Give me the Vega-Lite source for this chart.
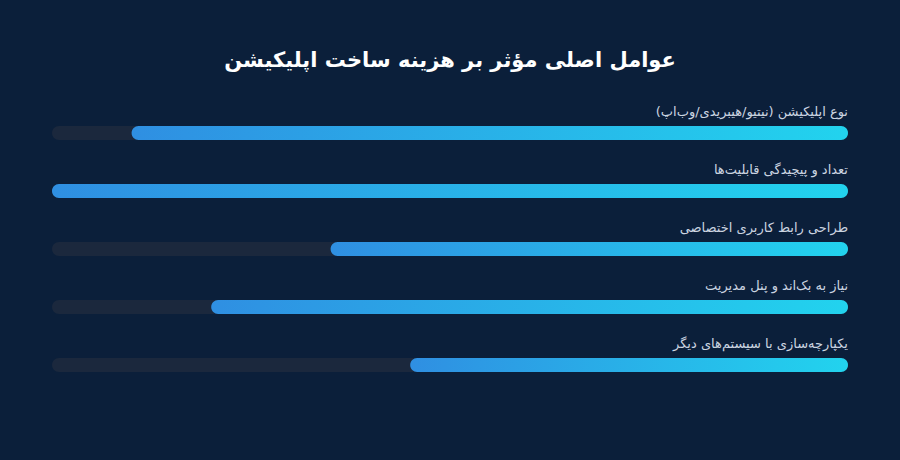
{
  "$schema": "https://vega.github.io/schema/vega-lite/v6.json",
  "width": 900,
  "height": 460,
  "autosize": {"type": "fit", "contains": "padding"},
  "padding": {"top": 50, "left": 52, "right": 52, "bottom": 66},
  "background": "#0b1f3a",
  "title": {
    "text": "عوامل اصلی مؤثر بر هزینه ساخت اپلیکیشن",
    "font": "DejaVu Sans",
    "fontSize": 21,
    "fontWeight": "bold",
    "color": "#ffffff",
    "anchor": "middle",
    "offset": 33
  },
  "data": {
    "values": [
      {"factor": "نوع اپلیکیشن (نیتیو/هیبریدی/وب‌اپ)\u200f", "value": 90, "order": 1},
      {"factor": "تعداد و پیچیدگی قابلیت‌ها", "value": 100, "order": 2},
      {"factor": "طراحی رابط کاربری اختصاصی", "value": 65, "order": 3},
      {"factor": "نیاز به بک‌اند و پنل مدیریت", "value": 80, "order": 4},
      {"factor": "یکپارچه‌سازی با سیستم‌های دیگر", "value": 55, "order": 5}
    ]
  },
  "encoding": {
    "y": {
      "field": "factor",
      "type": "nominal",
      "sort": {"field": "order", "order": "ascending"},
      "scale": {"paddingInner": 0, "paddingOuter": 0},
      "axis": null
    }
  },
  "layer": [
    {
      "mark": {"type": "bar", "height": 14, "cornerRadius": 7, "color": "#1b283d"},
      "encoding": {
        "x": {"datum": 100, "type": "quantitative", "scale": {"domain": [0, 100], "reverse": true}, "axis": null},
        "x2": {"datum": 0}
      }
    },
    {
      "mark": {
        "type": "bar",
        "height": 14,
        "cornerRadius": 7,
        "fill": {
          "gradient": "linear",
          "x1": 0, "x2": 1, "y1": 0, "y2": 0,
          "stops": [
            {"offset": 0, "color": "#2f8fe2"},
            {"offset": 1, "color": "#22d3ee"}
          ]
        }
      },
      "encoding": {
        "x": {"field": "value", "type": "quantitative", "scale": {"domain": [0, 100], "reverse": true}, "axis": null},
        "x2": {"datum": 0}
      }
    },
    {
      "mark": {
        "type": "text",
        "align": "right",
        "baseline": "middle",
        "dy": -21,
        "font": "DejaVu Sans",
        "fontSize": 13,
        "color": "#cbd5e1"
      },
      "encoding": {
        "x": {"datum": 0, "type": "quantitative"},
        "text": {"field": "factor", "type": "nominal"}
      }
    }
  ],
  "config": {"view": {"stroke": null}}
}
